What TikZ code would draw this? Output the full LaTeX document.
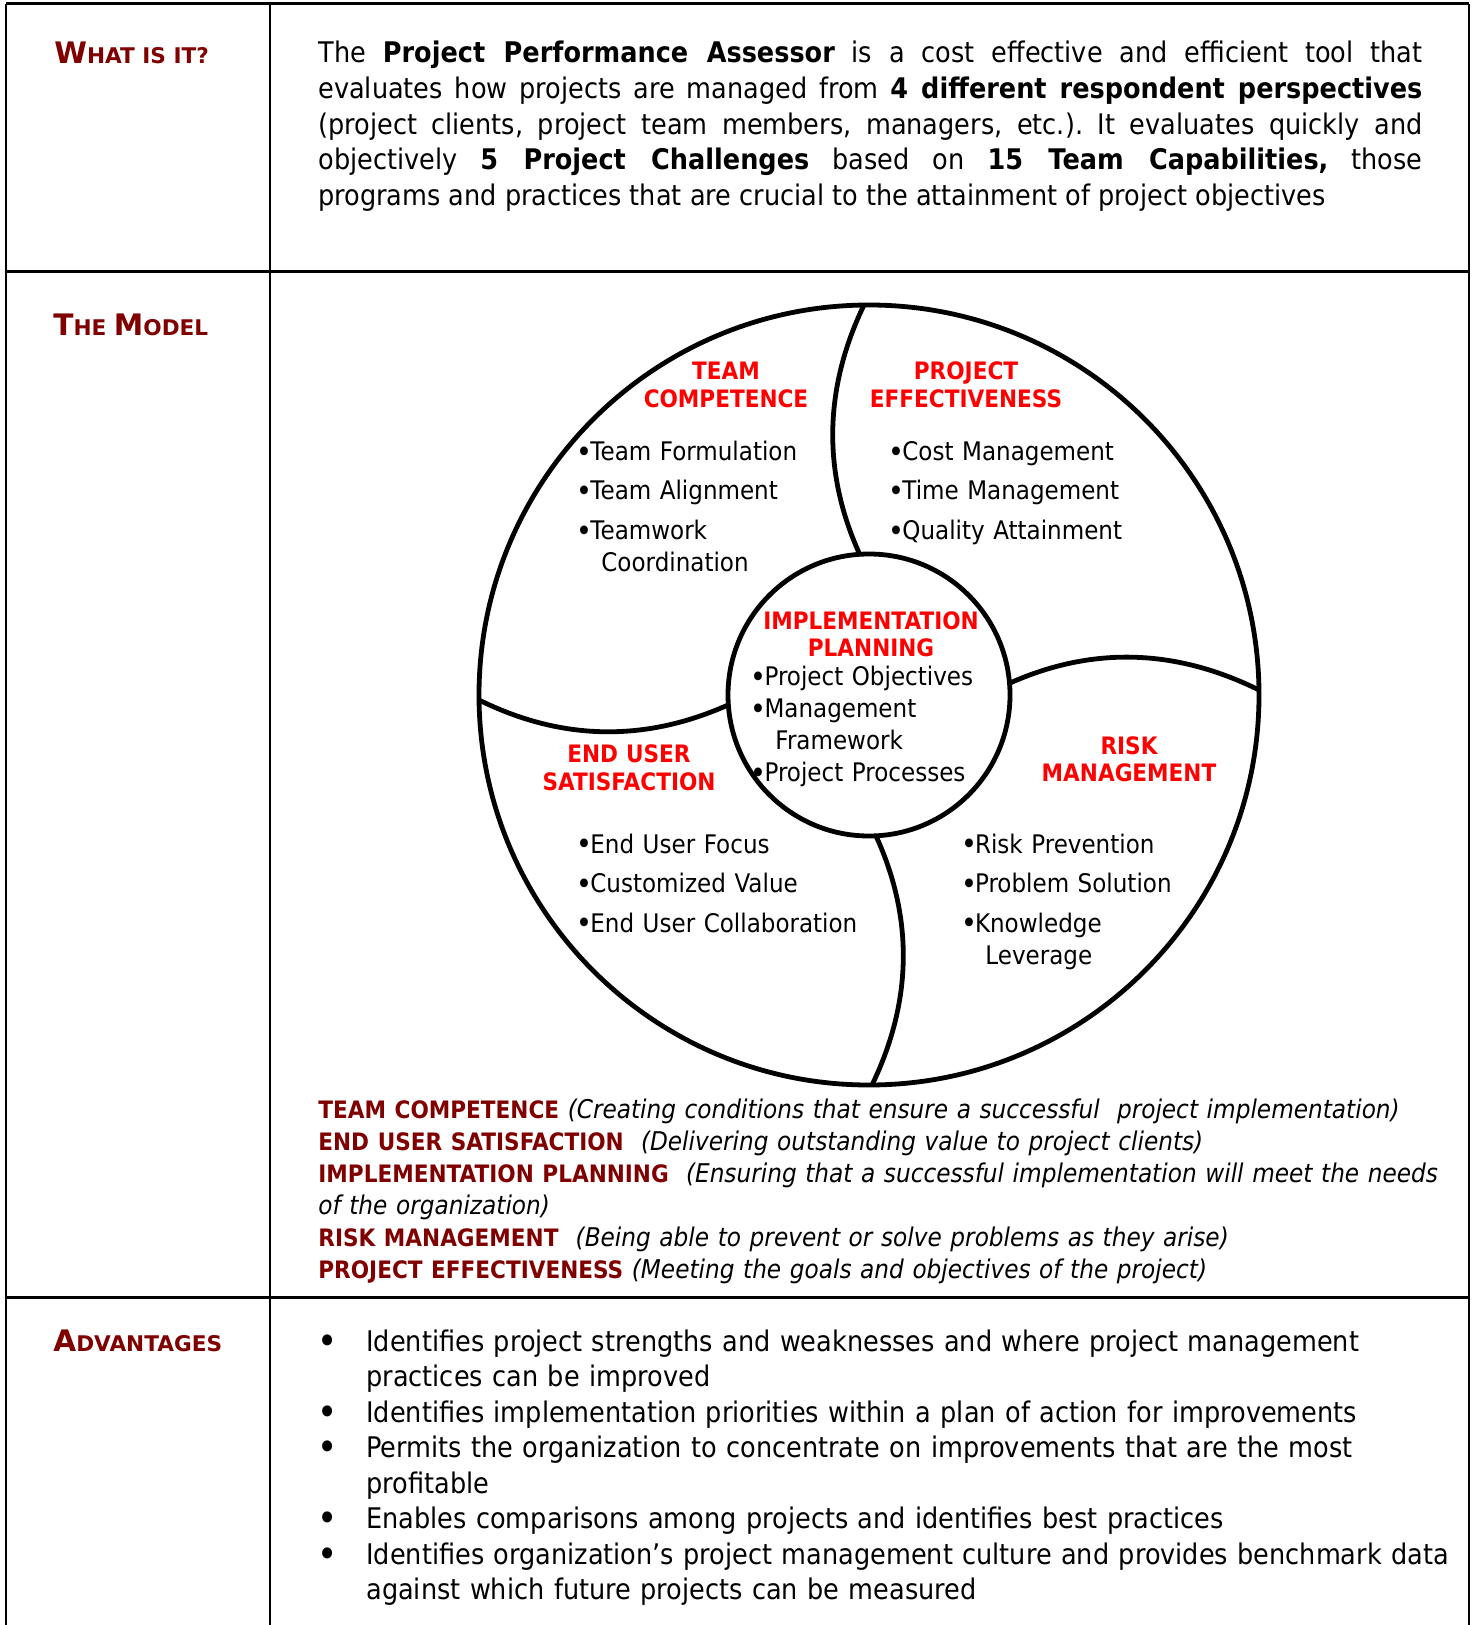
\documentclass[tikz,border=0pt]{standalone}
\usepackage{fontspec}
\setmainfont{DejaVu Sans}[FakeStretch=0.9]
\newfontfamily\hdrfont{DejaVu Sans}
\usetikzlibrary{positioning}

\definecolor{hdrred}{HTML}{800000}
\definecolor{capred}{HTML}{FF0000}

\newcommand\hdrsc[2]{{\fontsize{14.8pt}{16pt}\selectfont #1}{\fontsize{10.8pt}{12pt}\selectfont #2}}
\newcommand\keyname[1]{{\fontsize{12pt}{16pt}\selectfont\bfseries\upshape\color{hdrred}#1}}
\newcommand\advbul{\makebox[24.25pt][l]{\raisebox{-1.7pt}{\fontsize{19pt}{19pt}\selectfont\textbullet}}}
\newcommand\advgap{\hspace*{24.25pt}}
\newcommand\cbul{\makebox[6.8pt][l]{\raisebox{-0.8pt}{\fontsize{15pt}{15pt}\selectfont\textbullet}}}

\tikzset{
  tabline/.style={draw=black, line width=1pt},
  tabrule/.style={draw=black, line width=1.5pt},
  wheel/.style={draw=black, line width=2.4pt},
  rowhead/.style={anchor=base west, inner sep=0pt, text=hdrred, font=\hdrfont\bfseries},
  about/.style={anchor=base west, inner sep=0pt, text width=552pt, align=justify,
    font=\fontsize{14.2pt}{17.9pt}\selectfont\sloppy},
  capname/.style={anchor=base, inner sep=0pt, text width=130pt, align=center,
    text=capred, font=\fontsize{12pt}{13.75pt}\selectfont\bfseries},
  capitems/.style={anchor=base west, inner sep=0pt, text width=160pt, align=left,
    font=\fontsize{12.8pt}{16pt}\selectfont},
  keylist/.style={anchor=base west, inner sep=0pt, text width=600pt, align=left,
    font=\fontsize{12.9pt}{16.05pt}\selectfont\itshape},
  advlist/.style={anchor=base west, inner sep=0pt, text width=600pt, align=left,
    font=\fontsize{14.2pt}{17.75pt}\selectfont}
}

\begin{document}
\frenchspacing
\begin{tikzpicture}[x=0.5pt,y=-0.5pt]
\useasboundingbox (0,0) rectangle (1475,1625);

% table
\draw[tabrule] (6,4) -- (1469,4);
\draw[tabline] (6,4) -- (6,1625) (270,4) -- (270,1625) (1469,4) -- (1469,1625);
\draw[tabrule] (6,272) -- (1469,272) (6,1297) -- (1469,1297);

\node[rowhead] (whatis) at (54,63.3) {\hdrsc{W}{HAT IS IT?}};
\node[rowhead] (model) at (53,336) {\hdrsc{T}{HE }\hdrsc{M}{ODEL}};
\node[rowhead] (adv) at (53,1351) {\hdrsc{A}{DVANTAGES}};

\node[about] (what) at (318,62.5)
{The \textbf{Project Performance Assessor} is a cost effective and efficient tool that\linebreak
evaluates how projects are managed from \textbf{4 different respondent perspectives}\linebreak
(project clients, project team members, managers, etc.). It evaluates quickly and\linebreak
objectively \textbf{5 Project Challenges} based on \textbf{15 Team Capabilities,} those\linebreak
programs and practices that are crucial to the attainment of project objectives};

% the wheel
\coordinate (ctr) at (869,695);
\draw[wheel] (ctr) circle[radius=390];
\draw[wheel] (ctr) circle[radius=141];

\coordinate (t1) at (860,555);  \coordinate (t2) at (864,305);
\coordinate (r1) at (1010,683); \coordinate (r2) at (1259,690);
\coordinate (b1) at (876,836);  \coordinate (b2) at (872,1085);
\coordinate (l1) at (728,705);  \coordinate (l2) at (479,700);

\draw[wheel] (t2) .. controls (824,388) and (822,472) .. (t1);
\draw[wheel] (r1) .. controls (1093,646) and (1176,649) .. (r2);
\draw[wheel] (b1) .. controls (914,919) and (912,1002) .. (b2);
\draw[wheel] (l1) .. controls (645,742) and (562,741) .. (l2);

\node[capname] (tc) at (726,380) {TEAM\\COMPETENCE};
\node[capname] (pe) at (966,380) {PROJECT\\EFFECTIVENESS};
\node[capname] (ip) at (871,629) {IMPLEMENTATION\\PLANNING};
\node[capname] (eu) at (629,762.5) {END USER\\SATISFACTION};
\node[capname] (rm) at (1129,754) {RISK\\MANAGEMENT};

\node[capitems] (tclist) at (576.4,460.5)
{\cbul Team Formulation\\[3.75pt]\cbul Team Alignment\\[3.75pt]\cbul Teamwork\\\hspace*{12.3pt}Coordination};
\node[capitems] (pelist) at (888.4,460.5)
{\cbul Cost Management\\[3.75pt]\cbul Time Management\\[3.75pt]\cbul Quality Attainment};
\node[capitems] (iplist) at (750.5,685.5)
{\cbul Project Objectives\\\cbul Management\\\hspace*{12.25pt}Framework\\\cbul Project Processes};
\node[capitems] (eulist) at (576.4,853.3)
{\cbul End User Focus\\[3.75pt]\cbul Customized Value\\[3.75pt]\cbul End User Collaboration};
\node[capitems] (rmlist) at (961,853.3)
{\cbul Risk Prevention\\[3.75pt]\cbul Problem Solution\\[3.75pt]\cbul Knowledge\\\hspace*{12pt}Leverage};

% legend under the wheel
\node[keylist] (key) at (318,1118)
{\keyname{TEAM COMPETENCE} (Creating conditions that ensure a successful\ \ project implementation)\\
\keyname{END USER SATISFACTION}\ \ (Delivering outstanding value to project clients)\\
\keyname{IMPLEMENTATION PLANNING}\ \ (Ensuring that a successful implementation will meet the needs\\
of the organization)\\
\keyname{RISK MANAGEMENT}\ \ (Being able to prevent or solve problems as they arise)\\
\keyname{PROJECT EFFECTIVENESS} (Meeting the goals and objectives of the project)};

\node[advlist] (advs) at (317.5,1351)
{\advbul Identifies project strengths and weaknesses and where project management\\
\advgap practices can be improved\\
\advbul Identifies implementation priorities within a plan of action for improvements\\
\advbul Permits the organization to concentrate on improvements that are the most\\
\advgap profitable\\
\advbul Enables comparisons among projects and identifies best practices\\
\advbul Identifies organization’s project management culture and provides benchmark data\\
\advgap against which future projects can be measured};

\end{tikzpicture}
\end{document}
